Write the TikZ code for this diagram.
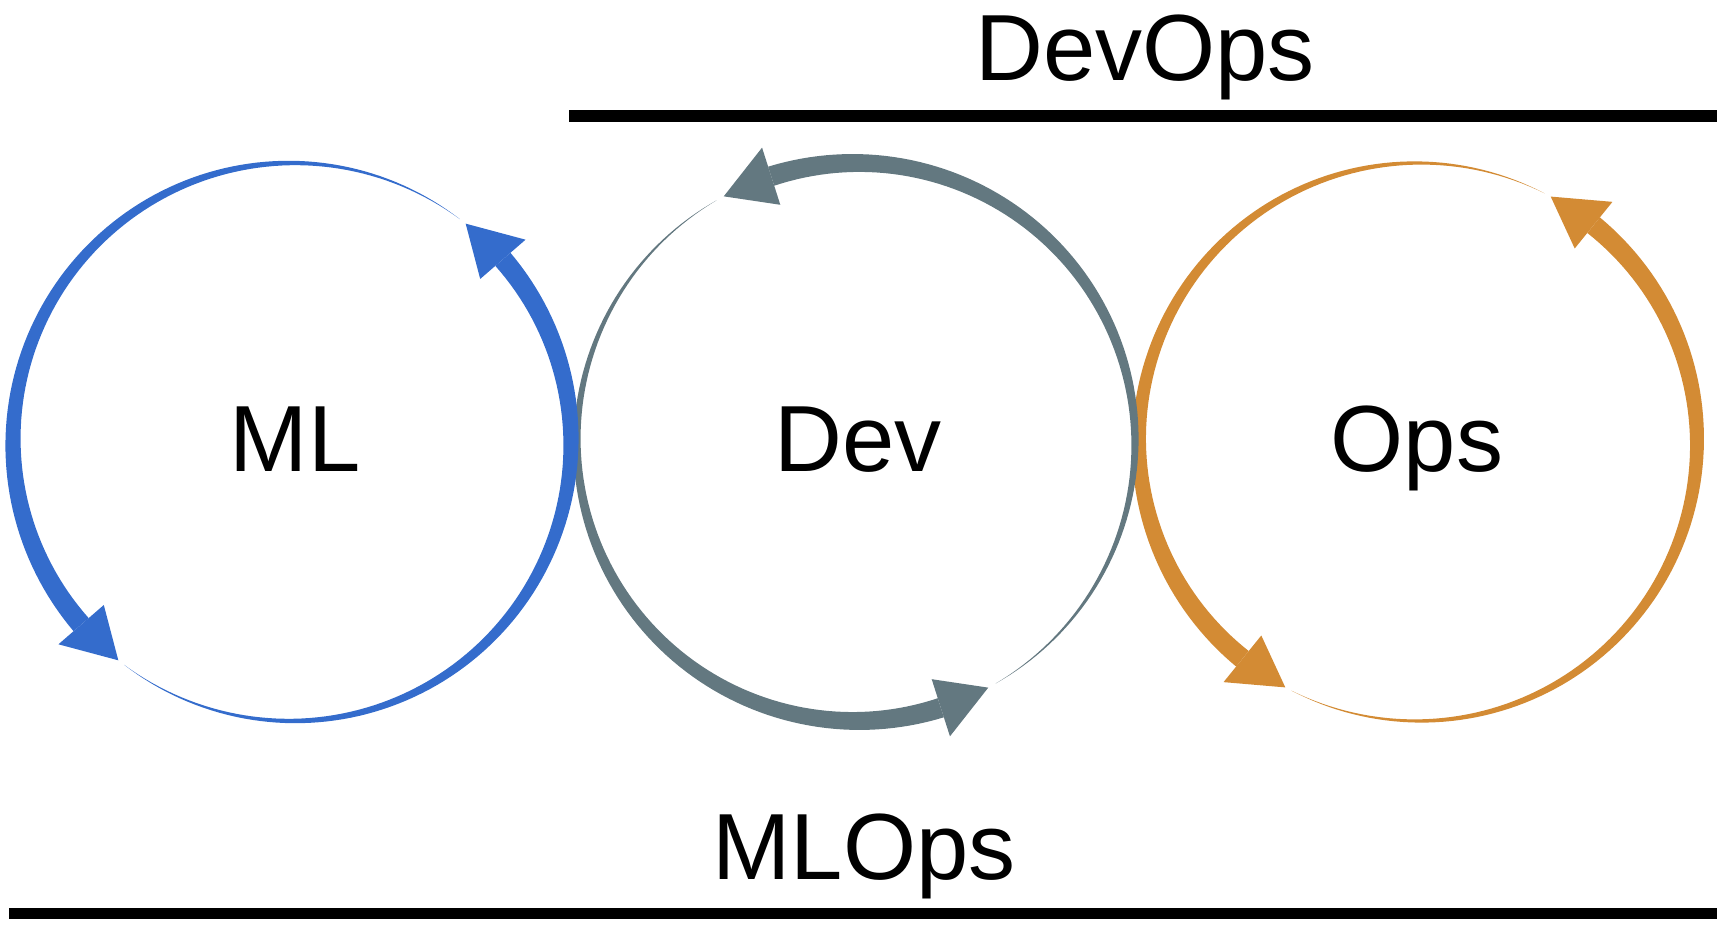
\documentclass[tikz,border=0pt]{standalone}
\usepackage{fontspec}
\setmainfont{Liberation Sans}
\definecolor{mlblue}{RGB}{52,108,204}
\definecolor{devgray}{RGB}{99,120,128}
\definecolor{opsorange}{RGB}{211,139,52}
% #1 centre, #2 colour, #3 thin start angle, #4 head base angle, #5 tip angle
\newcommand{\taperarrow}[5]{%
  \begin{scope}[shift={#1}]
    \fill[#2] plot[domain=#3:#4,samples=100] (\x:{279+10*(\x-#3)/(#4-#3)})
      -- plot[domain=#4:#3,samples=100] (\x:{279-10*(\x-#3)/(#4-#3)}) -- cycle;
    \fill[#2] (#4:309) -- (#5:279) -- (#4:249) -- cycle;
  \end{scope}}
\begin{document}
\begin{tikzpicture}[x=1pt,y=1pt,
  lbl/.style={font=\fontsize{94}{112}\selectfont, inner sep=0pt, anchor=base},
  rule/.style={line width=11.5pt, line cap=butt}]
\useasboundingbox (0,0) rectangle (1725,928);
% circles (drawn orange, gray, blue so that overlaps match)
\taperarrow{(1418,486)}{opsorange}{243}{411}{421.6}
\taperarrow{(1418,486)}{opsorange}{63}{231}{241.6}
\taperarrow{(856,486)}{devgray}{300}{467.7}{478.3}
\taperarrow{(856,486)}{devgray}{120}{287.7}{298.3}
\taperarrow{(292,486)}{mlblue}{233}{400.9}{411.5}
\taperarrow{(292,486)}{mlblue}{53}{220.9}{231.5}
% labels
\node[lbl] (ml) at (295,456.3) {ML};
\node[lbl] (dev) at (858,456.3) {Dev};
\node[lbl] (ops) at (1417,456.3) {Ops};
\node[lbl] (devops) at (1145,847.5) {DevOps};
\node[lbl] (mlops) at (864,48.5) {MLOps};
% rules
\coordinate (d1) at (569,812);
\coordinate (d2) at (1717,812);
\coordinate (m1) at (9,14.5);
\coordinate (m2) at (1717,14.5);
\draw[rule] (d1) -- (d2);
\draw[rule] (m1) -- (m2);
\end{tikzpicture}
\end{document}
